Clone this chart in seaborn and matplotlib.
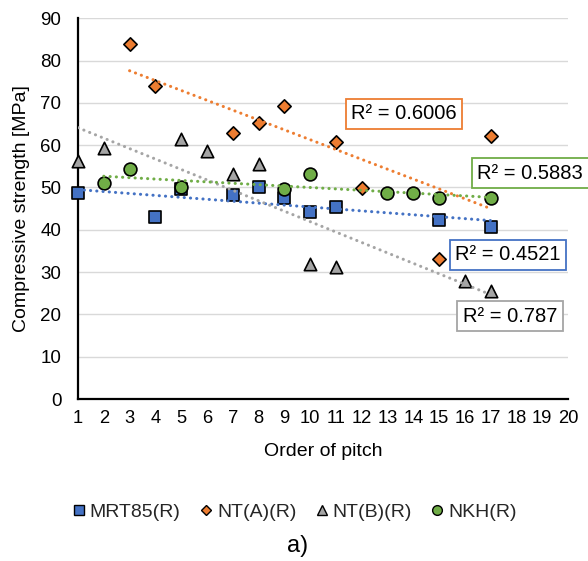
import matplotlib
matplotlib.use("Agg")
import matplotlib.pyplot as plt
from matplotlib.lines import Line2D
import numpy as np
import pandas as pd
import seaborn as sns

# Compressive strength [MPa] by order of pitch
x_mrt85 = [1, 4, 5, 7, 8, 9, 10, 11, 15, 17]
y_mrt85 = [48.7, 43.0, 49.7, 48.2, 50.0, 47.5, 44.3, 45.5, 42.3, 40.6]

x_nta = [3, 4, 7, 8, 9, 11, 12, 15, 17]
y_nta = [84.0, 74.0, 62.8, 65.3, 69.3, 60.7, 49.8, 33.0, 62.2]

x_ntb = [1, 2, 5, 6, 7, 8, 10, 11, 16, 17]
y_ntb = [56.3, 59.3, 61.5, 58.7, 53.2, 55.6, 31.8, 31.3, 28.0, 25.6]

x_nkh = [2, 3, 5, 9, 10, 13, 14, 15, 17]
y_nkh = [51.1, 54.3, 50.2, 49.6, 53.1, 48.8, 48.8, 47.4, 47.4]

series_names = ["MRT85(R)", "NT(A)(R)", "NT(B)(R)", "NKH(R)"]
r2_labels = ["R² = 0.4521", "R² = 0.6006", "R² = 0.787", "R² = 0.5883"]

x_ticks = list(range(1, 21))
y_ticks = list(range(0, 100, 10))

sns.set_theme(style="white")
plt.rcParams["font.family"] = ["Liberation Sans", "DejaVu Sans"]

colors = ["#4472C4", "#ED7D31", "#A5A5A5", "#70AD47"]
markers = ["s", "D", "^", "o"]
msizes = [80, 46, 80, 85]
legend_ms = [6.5, 5, 7, 7]

frames = [
    pd.DataFrame({"order": x_mrt85, "strength": y_mrt85}),
    pd.DataFrame({"order": x_nta, "strength": y_nta}),
    pd.DataFrame({"order": x_ntb, "strength": y_ntb}),
    pd.DataFrame({"order": x_nkh, "strength": y_nkh}),
]

fig = plt.figure(figsize=(5.88, 5.61), dpi=100)
W, H = 588, 561
ax = fig.add_axes([78 / W, 1 - 399 / H, 490 / W, 380.7 / H])

for df, c, m, s in zip(frames, colors, markers, msizes):
    sns.scatterplot(data=df, x="order", y="strength", ax=ax, marker=m, s=s,
                    color=c, edgecolor="black", linewidth=1.2, zorder=3,
                    clip_on=False, legend=False)

for df, c in zip(frames, colors):
    sns.regplot(data=df, x="order", y="strength", ax=ax, scatter=False,
                ci=None, truncate=True, color=c,
                line_kws=dict(linestyle=(0, (0.05, 2.0)), lw=2.2,
                              dash_capstyle="round", zorder=4))

ax.set_xlim(1, 20)
ax.set_ylim(0, 90)
ax.set_xticks(x_ticks)
ax.set_yticks(y_ticks)
ax.tick_params(axis="x", length=0, pad=8, labelsize=13.2, colors="black")
ax.tick_params(axis="y", length=0, pad=12, labelsize=13.5, colors="black")
ax.yaxis.grid(True, color="#d9d9d9", lw=1.0, zorder=0)
ax.xaxis.grid(False)
ax.set_axisbelow(True)
for side in ["top", "right"]:
    ax.spines[side].set_visible(False)
for side in ["left", "bottom"]:
    ax.spines[side].set_color("black")
    ax.spines[side].set_linewidth(1.6)
    ax.spines[side].set_zorder(2)

ax.set_xlabel("Order of pitch", fontsize=14, color="black")
ax.xaxis.set_label_coords(0.5, (399 - 452) / 380.7)
ax.xaxis.label.set_verticalalignment("center")
ax.set_ylabel("Compressive strength [MPa]", fontsize=14, color="black")
ax.yaxis.set_label_coords((22 - 78) / 490, 0.5)
ax.yaxis.label.set_verticalalignment("center")

# R² annotation boxes (data coordinates)
r2_pos = [(17.67, 34.1), (13.64, 67.4), (17.75, 19.55), (18.53, 53.4)]
for (px, py), txt, c in zip(r2_pos, r2_labels, colors):
    ax.text(px, py, txt, ha="center", va="center", fontsize=14.5,
            color="black", zorder=6, clip_on=False,
            bbox=dict(boxstyle="square,pad=0.28", fc="white", ec=c, lw=1.3))

handles = [Line2D([], [], linestyle="none", marker=m, markersize=ms,
                  markerfacecolor=c, markeredgecolor="black",
                  markeredgewidth=1.0)
           for m, c, ms in zip(markers, colors, legend_ms)]
fig.legend(handles, series_names, loc="center",
           bbox_to_anchor=(295 / W, 1 - 512 / H), ncol=4, frameon=False,
           fontsize=14, handlelength=0.6, handletextpad=0.27,
           columnspacing=1.0)

fig.text(298 / W, 1 - 546 / H, "a)", ha="center", va="center", fontsize=17,
         color="black")

fig.savefig("out.png", dpi=100)
